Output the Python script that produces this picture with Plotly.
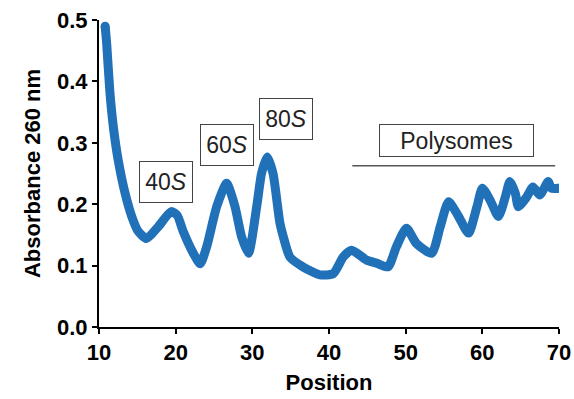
import plotly.graph_objects as go

# Trace data (Position vs Absorbance 260 nm)
position = [10.8, 11.0, 11.43, 11.87, 12.5, 13.4, 14.27, 15.1, 16.2, 17.7, 19.4, 20.2, 21.0,
            22.3, 23.2, 24.05, 25.35, 26.65, 27.74, 28.6, 29.5, 30.57, 31.2, 31.95, 32.7,
            33.6, 34.04, 34.9, 36.6, 38.8, 40.56, 41.9, 42.96, 44.9, 46.2, 47.7, 48.8,
            50.1, 51.4, 53.4, 54.5, 55.6, 56.9, 58.2, 59.3, 60.0, 61.0, 62.1, 63.0, 63.6,
            64.3, 64.7, 65.8, 66.6, 67.5, 68.6, 69.0, 69.9]
absorbance = [0.49, 0.462, 0.381, 0.326, 0.272, 0.218, 0.180, 0.156, 0.144, 0.163, 0.188, 0.182,
              0.155, 0.120, 0.103, 0.131, 0.196, 0.234, 0.196, 0.147, 0.120, 0.196, 0.250,
              0.277, 0.250, 0.169, 0.147, 0.114, 0.098, 0.085, 0.087, 0.115, 0.125, 0.109,
              0.104, 0.098, 0.131, 0.161, 0.136, 0.120, 0.163, 0.204, 0.180, 0.153, 0.196,
              0.226, 0.207, 0.180, 0.212, 0.237, 0.218, 0.196, 0.212, 0.228, 0.215, 0.237,
              0.226, 0.226]

x_ticks = [10, 20, 30, 40, 50, 60, 70]
y_ticks = [0.0, 0.1, 0.2, 0.3, 0.4, 0.5]
y_tick_labels = ["0.0", "0.1", "0.2", "0.3", "0.4", "0.5"]

peak_labels = ["40<i>S</i>", "60<i>S</i>", "80<i>S</i>"]
peak_label_x = [18.74, 26.76, 34.33]
peak_label_y = [0.236, 0.297, 0.338]

poly_label = "Polysomes"
poly_label_x = 56.6
poly_label_y = 0.304
poly_line_x = [43.04, 69.5]
poly_line_y = [0.2627, 0.2627]

FONT = "Liberation Sans, Arial, sans-serif"
BLUE = "#2171b9"
LW = 9

fig = go.Figure()
fig.add_trace(go.Scatter(
    x=position, y=absorbance, mode="lines",
    line=dict(color=BLUE, width=LW, shape="spline", smoothing=0.6),
    hoverinfo="skip", showlegend=False,
))
# round line caps at both ends
fig.add_trace(go.Scatter(
    x=[position[0], position[-1]], y=[absorbance[0], absorbance[-1]], mode="markers",
    marker=dict(color=BLUE, size=LW, line=dict(width=0)),
    hoverinfo="skip", showlegend=False, cliponaxis=True,
))
fig.add_trace(go.Scatter(
    x=poly_line_x, y=poly_line_y, mode="lines",
    line=dict(color="#555555", width=1.5),
    hoverinfo="skip", showlegend=False,
))

for t, xx, yy in zip(peak_labels, peak_label_x, peak_label_y):
    fig.add_annotation(
        x=xx, y=yy, xref="x", yref="y", text=t, showarrow=False,
        font=dict(family=FONT, size=23, color="#222222"),
        bordercolor="#444444", borderwidth=1, borderpad=0,
        width=52, height=40, bgcolor="white",
    )
fig.add_annotation(
    x=poly_label_x, y=poly_label_y, xref="x", yref="y", text=poly_label, showarrow=False,
    font=dict(family=FONT, size=23, color="#222222"),
    bordercolor="#444444", borderwidth=1, borderpad=0,
    width=153, height=31, bgcolor="white",
)

fig.update_layout(
    width=574, height=399,
    margin=dict(l=99, r=15, t=20, b=72, autoexpand=False),
    plot_bgcolor="white", paper_bgcolor="white",
    font=dict(family=FONT, color="black"),
)
fig.update_xaxes(
    range=[10, 70], tickvals=x_ticks, showgrid=False, zeroline=False, automargin=False,
    showline=True, linecolor="black", linewidth=2,
    ticks="outside", ticklen=5, tickwidth=2, tickcolor="black",
    tickfont=dict(family=FONT, size=22, color="black", weight="bold"),
    title=dict(text="Position", font=dict(family=FONT, size=22, color="black", weight="bold"), standoff=10),
)
fig.update_yaxes(
    range=[0, 0.5], tickvals=y_ticks, ticktext=y_tick_labels, showgrid=False, zeroline=False,
    automargin=False,
    showline=True, linecolor="black", linewidth=2,
    ticks="outside", ticklen=5, tickwidth=2, tickcolor="black",
    tickfont=dict(family=FONT, size=22, color="black", weight="bold"),
    title=dict(text="Absorbance 260 nm", font=dict(family=FONT, size=22, color="black", weight="bold"), standoff=10),
)

fig.write_html("out.html")
